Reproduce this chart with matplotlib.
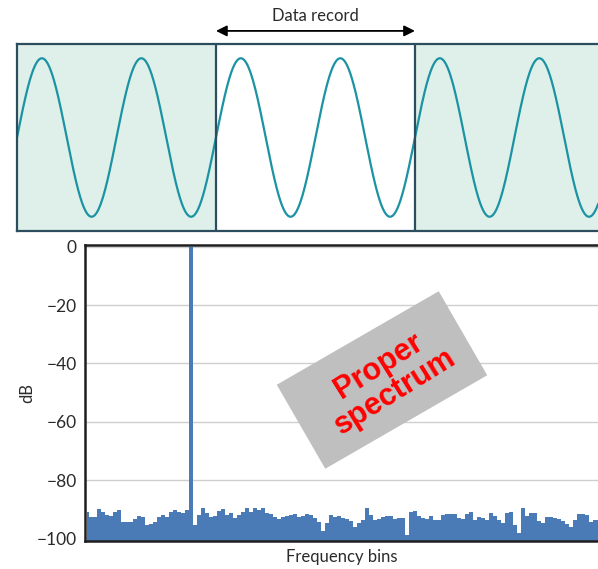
# plot.py - windowing illustration: periodic data record and its spectrum

import matplotlib.pyplot as plt
import numpy as np
from matplotlib.patches import Rectangle

plt.rcParams['font.family'] = ['Lato', 'DejaVu Sans']

## Data

# Top panel: the record repeated three times, two sine cycles per record
record_starts = [0, 1, 2]
shaded_records = [0, 2]
cycles_per_record = 2
visible_records = 2.92

# Bottom panel: spectrum level per frequency bin (dB)
spectrum_db = [
    -91.0, -92.5, -92.7, -89.8, -91.0, -92.0, -92.3, -91.0, -90.3, -94.5,
    -94.5, -94.4, -93.5, -92.3, -92.7, -95.5, -95.0, -94.4, -92.5, -92.0,
    -92.8, -91.0, -90.3, -91.0, -91.3, -90.3,
    0.0,
    -95.5, -92.0, -89.6, -91.3, -92.7, -92.3, -90.7, -90.0, -92.0, -91.3,
    -93.0, -92.0, -91.0, -89.6, -91.0, -89.6, -90.3, -89.6, -91.3, -91.7,
    -92.7, -93.4, -92.7, -92.3, -92.0, -91.7, -92.7,
    -92.3, -91.7, -92.0, -93.0, -94.4, -97.5, -94.8, -92.0, -92.7, -92.3,
    -93.0, -93.4, -94.0, -96.0, -94.8, -93.7, -89.6, -92.0, -93.7, -93.4,
    -92.7, -92.3, -92.3, -93.4, -93.0, -93.0,
    -99.0, -91.0, -90.7, -92.3, -93.0, -93.4, -92.3, -93.7, -93.7, -92.0,
    -91.7, -91.7, -91.7, -93.0, -93.4, -91.7, -91.0, -93.7, -92.7, -93.0,
    -93.7, -91.3, -92.3, -93.7, -94.8, -91.3,
    -91.0, -95.5, -98.0, -89.6, -92.3, -91.3, -91.3, -94.0, -94.8, -92.7,
    -92.7, -93.0, -93.4, -94.0, -95.0, -96.0, -93.7, -91.7, -91.7, -92.0,
    -94.4, -93.7, -93.7,
]
y_ticks = [0, -20, -40, -60, -80, -100]

## Figure

W, H = 598, 569
fig = plt.figure(figsize=(W / 100, H / 100), dpi=100)

frame_col = '#2b4d5e'
shade_col = '#dff0ea'
wave_col = '#1b93a3'
bar_col = '#4a7bb7'
text_col = '#2a2a2a'

# ---- top panel
ax1 = fig.add_axes([17 / W, (H - 231) / H, (W - 17) / W, 187 / H])
for r in shaded_records:
    ax1.axvspan(r, r + 1, color=shade_col, lw=0, zorder=0)
for r in record_starts[1:]:
    ax1.axvline(r, color=frame_col, lw=1.6, zorder=3)

t = np.linspace(0, len(record_starts), 2000)
ax1.plot(t, np.sin(2 * np.pi * cycles_per_record * t), color=wave_col, lw=1.6, zorder=2)
ax1.set_xlim(0, visible_records)
ax1.set_ylim(-1.18, 1.18)
ax1.set_xticks([])
ax1.set_yticks([])
for side in ['left', 'top', 'bottom']:
    ax1.spines[side].set_color(frame_col)
    ax1.spines[side].set_linewidth(1.6)
ax1.spines['right'].set_visible(False)

# "Data record" arrow over the middle record
xt = ax1.get_xaxis_transform()
ax1.annotate('', xy=(record_starts[1], 1.07), xytext=(record_starts[2], 1.07),
             xycoords=xt, textcoords=xt,
             arrowprops=dict(arrowstyle='<|-|>', color='black', lw=1.3,
                             mutation_scale=16, shrinkA=0, shrinkB=0),
             annotation_clip=False)
ax1.text((record_starts[1] + record_starts[2]) / 2, 1.15, 'Data record',
         transform=xt, ha='center', va='center', fontsize=12, color=text_col)

# ---- bottom panel
ax2 = fig.add_axes([85 / W, (H - 541) / H, (W - 85) / W, 296 / H])
bins = np.arange(len(spectrum_db))
ax2.fill_between(bins, -101, spectrum_db, step='mid', color=bar_col, lw=0, zorder=2)
ax2.set_xlim(-0.5, 127.75)
ax2.set_ylim(-100.9, 0.6)
ax2.set_yticks(y_ticks)
ax2.set_yticklabels(['0' if v == 0 else '\u2212' + str(-v) for v in y_ticks])
ax2.set_xticks([])
ax2.tick_params(axis='y', length=0, pad=6, labelsize=12.5, labelcolor=text_col)
for lbl in ax2.get_yticklabels():
    lbl.set_va('center_baseline')
ax2.grid(axis='y', color='#cfcfcf', lw=1.0, zorder=0)
ax2.set_axisbelow(True)
for side in ['left', 'top', 'bottom']:
    ax2.spines[side].set_color('#1e1e1e')
    ax2.spines[side].set_linewidth(1.8)
    ax2.spines[side].set_zorder(4)
ax2.spines['right'].set_visible(False)
ax2.set_xlabel('Frequency bins', fontsize=12, color=text_col, labelpad=6)
ax2.set_ylabel('dB', fontsize=12, color=text_col, labelpad=1)

# ---- stamp
cx, cy = 382 / 100, (H - 380) / 100
bw, bh = 1.87, 0.97
stamp = Rectangle((cx - bw / 2, cy - bh / 2), bw, bh, angle=30,
                  rotation_point='center', transform=fig.dpi_scale_trans,
                  facecolor='#bfbfbf', edgecolor='none', zorder=5)
fig.patches.append(stamp)
fig.text(cx + 0.05, cy + 0.01, 'Proper\nspectrum', transform=fig.dpi_scale_trans,
         rotation=32, rotation_mode='anchor', ha='center', va='center',
         fontsize=22, fontweight='bold', color='#ff0000',
         family=['Liberation Sans', 'DejaVu Sans'], linespacing=1.05, zorder=6)

fig.savefig('out.png', dpi=100)
